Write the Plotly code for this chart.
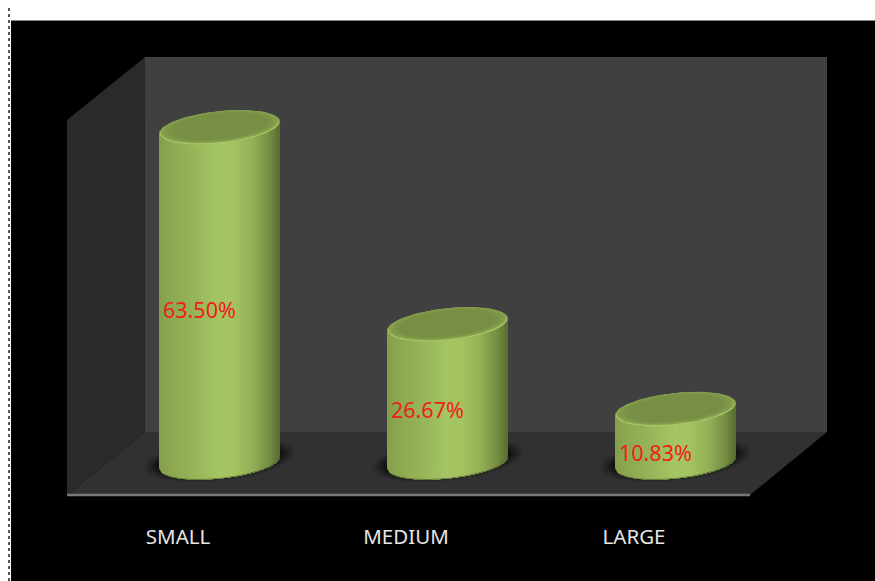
import numpy as np
import plotly.graph_objects as go

# Chart data
categories = ["SMALL", "MEDIUM", "LARGE"]
shares = [63.50, 26.67, 10.83]
share_labels = ["63.50%", "26.67%", "10.83%"]
label_heights = [29.5, 10.8, 2.8]

# Page and scale setup (pixels per axis unit, and where the axis sits on the page)
W, H = 875, 581
PX_PER_CAT = 228.0
PX_PER_PCT = 5.35
ZERO_X_PX = 178.0
ZERO_Y_PX = 467.0
AXIS_BOTTOM_PX = 495.0

# Cylinder proportions, expressed in axis units
DEPTH_SHIFT = 41.5 / PX_PER_CAT
LABEL_SHIFT = -20.5 / PX_PER_CAT
RADIUS_X = 60.5 / PX_PER_CAT
RADIUS_Y = 16.0 / PX_PER_PCT
TILT = 6.0 / PX_PER_PCT
BASE_LEVEL = 0.84

# Horizontal shading across a cylinder: position from -1 (left) to 1 (right), RGB
body_stops = [-1.0, -0.85, -0.55, 0.0, 0.25, 0.55, 0.82, 0.94, 1.0]
body_r = [132, 140, 148, 165, 162, 148, 118, 98, 88]
body_g = [158, 166, 176, 198, 195, 176, 142, 118, 108]
body_b = [76, 80, 86, 99, 96, 86, 66, 54, 48]

# Layers of the cylinder cap, outermost first: scale, upward offset in pixels, colour
cap_scales = [1.0, 0.985, 0.975, 0.93, 0.87, 0.8]
cap_lifts = [0.0, -0.5, 0.6, 0.9, 0.9, 0.9]
cap_colours = ["#829b4a", "#a8c864", "#88a24f", "#819a4a", "#7b9346", "#778e44"]

# Floor shadow rings: horizontal and vertical growth, opacity
shadow_grow_x = [1.26, 1.22, 1.18, 1.14, 1.10, 1.06, 1.02]
shadow_grow_y = [1.32, 1.27, 1.22, 1.17, 1.12, 1.07, 1.02]
shadow_alpha = [0.06, 0.08, 0.10, 0.13, 0.16, 0.20, 0.25]


def px(x):
    return x / W


def py(y):
    return 1 - y / H


def poly_path(points):
    head, *rest = points
    cmds = [f"M {px(head[0]):.5f} {py(head[1]):.5f}"]
    cmds += [f"L {px(a):.5f} {py(b):.5f}" for a, b in rest]
    return " ".join(cmds) + " Z"


def panel(points, colour):
    return dict(type="path", path=poly_path(points), xref="paper", yref="paper",
                fillcolor=colour, line=dict(width=0), layer="below")


def ellipse(cx, level, sx=1.0, sy=1.0, n=90):
    t = np.linspace(0, 2 * np.pi, n)
    c, s = np.cos(t), np.sin(t)
    return cx + RADIUS_X * sx * c, level + TILT * sx * c + RADIUS_Y * sy * s


def filled(x, y, colour):
    return go.Scatter(x=x, y=y, mode="lines", fill="toself", fillcolor=colour,
                      line=dict(color=colour, width=0), hoverinfo="skip",
                      showlegend=False)


fig = go.Figure()

for i, share in enumerate(shares):
    cx = i + DEPTH_SHIFT

    # Soft shadow on the floor
    for gx, gy, alpha in zip(shadow_grow_x, shadow_grow_y, shadow_alpha):
        ex, ey = ellipse(cx, BASE_LEVEL + 0.5, gx, gy)
        fig.add_trace(filled(ex, ey, f"rgba(0,0,0,{alpha})"))

    # Cylinder wall: each layer runs from its left edge to the far right and is
    # painted over the previous one, so neighbouring shades leave no seams
    edges = np.linspace(-1, 1, 61)
    for u0, u1 in zip(edges[:-1], edges[1:]):
        us = np.linspace(u0, 1, 40)
        mid = (u0 + u1) / 2
        colour = "rgb({:.0f},{:.0f},{:.0f})".format(
            np.interp(mid, body_stops, body_r),
            np.interp(mid, body_stops, body_g),
            np.interp(mid, body_stops, body_b),
        )
        arc = RADIUS_Y * np.sqrt(np.clip(1 - us ** 2, 0, 1))
        top = share + TILT * us - arc
        low = BASE_LEVEL + TILT * us - arc
        xs = cx + RADIUS_X * us
        fig.add_trace(filled(
            np.concatenate([xs, xs[::-1]]),
            np.concatenate([top, low[::-1]]),
            colour,
        ))

    # Darker soft edge where the wall meets the floor
    us = np.linspace(-1, 1, 60)
    fig.add_trace(go.Scatter(
        x=cx + RADIUS_X * us,
        y=BASE_LEVEL + TILT * us - RADIUS_Y * np.sqrt(1 - us ** 2),
        mode="lines", line=dict(color="rgba(55,70,28,0.55)", width=1),
        hoverinfo="skip", showlegend=False,
    ))

    # Cap
    for scale, lift, colour in zip(cap_scales, cap_lifts, cap_colours):
        ex, ey = ellipse(cx, share + lift / PX_PER_PCT, scale, scale)
        fig.add_trace(filled(ex, ey, colour))

    # Value label
    fig.add_annotation(x=cx + LABEL_SHIFT, y=label_heights[i], text=share_labels[i],
                       showarrow=False, font=dict(family="Noto Sans", size=21.5, color="#ee2018"))

# Page furniture and the three walls of the chart box
shapes = [
    dict(type="rect", xref="paper", yref="paper", x0=px(11), x1=1, y0=0, y1=py(21),
         fillcolor="#000000", line=dict(width=0), layer="below"),
    dict(type="line", xref="paper", yref="paper", x0=px(11), x1=1, y0=py(20.5), y1=py(20.5),
         line=dict(color="#8a8a8a", width=1), layer="below"),
    dict(type="line", xref="paper", yref="paper", x0=px(9), x1=px(9), y0=0, y1=py(8),
         line=dict(color="#555555", width=2, dash="dot"), layer="below"),
    panel([(145, 57), (827, 57), (827, 432), (145, 432)], "#404040"),
    panel([(67, 120), (145, 57), (145, 432), (67, 495)], "#2a2a2a"),
    panel([(67, 495), (145, 432), (827, 432), (750, 495)], "#313131"),
    dict(type="line", xref="paper", yref="paper", x0=px(67), x1=px(750), y0=py(495), y1=py(495),
         line=dict(color="#777777", width=2.5), layer="below"),
]

fig.update_layout(
    width=W,
    height=H,
    autosize=False,
    margin=dict(l=0, r=0, t=0, b=0),
    paper_bgcolor="#ffffff",
    plot_bgcolor="rgba(0,0,0,0)",
    showlegend=False,
    shapes=shapes,
    xaxis=dict(
        range=[-ZERO_X_PX / PX_PER_CAT, (W - ZERO_X_PX) / PX_PER_CAT],
        tickmode="array",
        tickvals=list(range(len(categories))),
        ticktext=categories,
        tickfont=dict(family="Noto Sans", size=20.5, color="#e6e6e6"),
        ticks="",
        ticklabelstandoff=27,
        showgrid=False,
        zeroline=False,
        showline=False,
        fixedrange=True,
    ),
    yaxis=dict(
        domain=[1 - AXIS_BOTTOM_PX / H, 1],
        range=[(ZERO_Y_PX - AXIS_BOTTOM_PX) / PX_PER_PCT, ZERO_Y_PX / PX_PER_PCT],
        showticklabels=False,
        ticks="",
        showgrid=False,
        zeroline=False,
        showline=False,
        fixedrange=True,
    ),
)

fig.write_html("out.html", config=dict(displayModeBar=False))
